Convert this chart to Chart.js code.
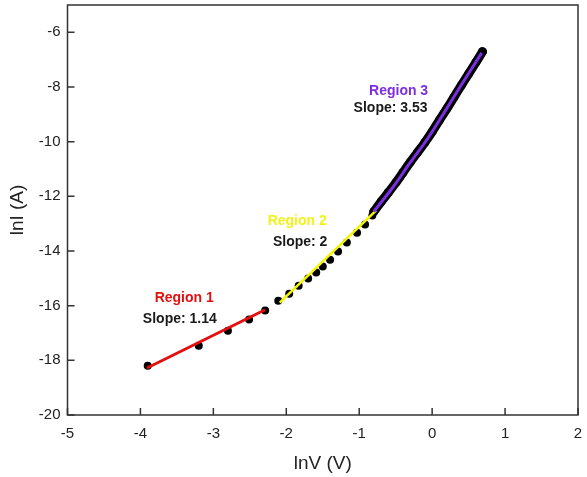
<!DOCTYPE html>
<html>
<head>
<meta charset="utf-8">
<script src="https://cdn.jsdelivr.net/npm/chart.js@4"></script>
<style>
  html, body { margin: 0; padding: 0; background: #fff; }
</style>
</head>
<body>
<canvas id="ivChart" width="587" height="477"></canvas>
<script>
// ln I vs ln V

const region1X = [-3.90, -3.20, -2.80, -2.51, -2.29];
const region1Y = [-18.20, -17.47, -16.92, -16.51, -16.18];

const region2X = [-2.11, -1.96, -1.83, -1.70, -1.59, -1.50, -1.40, -1.29, -1.17, -1.03, -0.92, -0.82];
const region2Y = [-15.82, -15.56, -15.27, -15.01, -14.79, -14.57, -14.32, -14.02, -13.69, -13.33, -13.03, -12.70];

// dense part of the curve (drawn as a thick run of points)
const region3X = [-0.80, -0.70, -0.60, -0.50, -0.40, -0.30, -0.20, -0.10, 0.00, 0.10, 0.20, 0.30, 0.40, 0.50, 0.60, 0.69];
const region3Y = [-12.56, -12.20, -11.86, -11.51, -11.13, -10.75, -10.39, -10.03, -9.64, -9.21, -8.80, -8.37, -7.94, -7.52, -7.10, -6.71];

// fitted lines
const fit1X = [-3.91, -2.29];
const fit1Y = [-18.28, -16.15];
const fit2X = [-2.09, -0.77];
const fit2Y = [-15.89, -12.52];
const fit3X = [-0.80, -0.53, -0.30, -0.07, 0.15, 0.38, 0.68];
const fit3Y = [-12.56, -11.64, -10.76, -9.92, -9.00, -8.01, -6.75];

const xTicks = [-5, -4, -3, -2, -1, 0, 1, 2];
const yTicks = [-20, -18, -16, -14, -12, -10, -8, -6];

const regionNames = ["Region 1", "Region 2", "Region 3"];
const slopeTexts = ["Slope: 1.14", "Slope: 2", "Slope: 3.53"];
const regionColors = ["#e4100f", "#f2f21a", "#7d2ee3"];
// label anchors in data units: [x, y] for name, then slope
const nameAt = [[-3.40, -15.74], [-1.85, -12.92], [-0.46, -8.16]];
const slopeAt = [[-3.46, -16.48], [-1.81, -13.66], [-0.57, -8.78]];

const FONT = "Arial, 'Liberation Sans', sans-serif";

function pts(xs, ys) {
    return xs.map((x, i) => ({ x: x, y: ys[i] }));
}

const framePlugin = {
    id: "frame",
    beforeDatasetsDraw(chart) {
        const ctx = chart.ctx;
        const a = chart.chartArea;
        const xs = chart.scales.x;
        const ys = chart.scales.y;
        ctx.save();
        ctx.strokeStyle = "#333";
        ctx.lineWidth = 1.5;
        ctx.strokeRect(a.left, a.top, a.right - a.left, a.bottom - a.top);
        ctx.beginPath();
        xTicks.forEach(v => {
            const px = xs.getPixelForValue(v);
            ctx.moveTo(px, a.bottom);
            ctx.lineTo(px, a.bottom - 7);
        });
        yTicks.forEach(v => {
            const py = ys.getPixelForValue(v);
            ctx.moveTo(a.left, py);
            ctx.lineTo(a.left + 7, py);
        });
        ctx.stroke();
        ctx.restore();
    },
    afterDatasetsDraw(chart) {
        const ctx = chart.ctx;
        const xs = chart.scales.x;
        const ys = chart.scales.y;
        ctx.save();
        ctx.font = "bold 14px " + FONT;
        ctx.textAlign = "center";
        ctx.textBaseline = "middle";
        regionNames.forEach((name, i) => {
            ctx.fillStyle = regionColors[i];
            ctx.fillText(name, xs.getPixelForValue(nameAt[i][0]), ys.getPixelForValue(nameAt[i][1]));
            ctx.fillStyle = "#1a1a1a";
            ctx.fillText(slopeTexts[i], xs.getPixelForValue(slopeAt[i][0]), ys.getPixelForValue(slopeAt[i][1]));
        });
        ctx.restore();
    }
};

const ctx = document.getElementById("ivChart").getContext("2d");

new Chart(ctx, {
    type: "scatter",
    data: {
        datasets: [
            {
                label: "Fit region 3",
                data: pts(fit3X, fit3Y),
                showLine: true,
                borderColor: regionColors[2],
                borderWidth: 3,
                pointRadius: 0,
                tension: 0.3,
                order: 1
            },
            {
                label: "Fit region 2",
                data: pts(fit2X, fit2Y),
                showLine: true,
                borderColor: "#f5f500",
                borderWidth: 2.5,
                pointRadius: 0,
                order: 2
            },
            {
                label: "Fit region 1",
                data: pts(fit1X, fit1Y),
                showLine: true,
                borderColor: regionColors[0],
                borderWidth: 3,
                pointRadius: 0,
                order: 3
            },
            {
                label: "Data region 3",
                data: pts(region3X, region3Y),
                showLine: true,
                borderColor: "#000",
                borderWidth: 9,
                borderCapStyle: "round",
                borderJoinStyle: "round",
                tension: 0.3,
                pointRadius: 4.5,
                pointBorderWidth: 0,
                pointBackgroundColor: "#000",
                order: 4
            },
            {
                label: "Data",
                data: pts(region1X.concat(region2X), region1Y.concat(region2Y)),
                pointRadius: 4,
                pointBorderWidth: 0,
                pointBackgroundColor: "#000",
                order: 5
            }
        ]
    },
    options: {
        responsive: false,
        animation: false,
        layout: { padding: { top: 5, right: 9, left: 0, bottom: 0 } },
        plugins: {
            legend: { display: false },
            tooltip: { enabled: false }
        },
        scales: {
            x: {
                type: "linear",
                min: -5,
                max: 2,
                afterBuildTicks: (scale) => { scale.ticks = xTicks.map(v => ({ value: v })); },
                afterFit: (scale) => {
                    scale.height = 62;
                    scale.paddingLeft = 0;
                    scale.paddingRight = 0;
                },
                grid: { display: false, drawTicks: false },
                border: { display: false },
                ticks: {
                    padding: 10,
                    color: "#222",
                    font: { family: FONT, size: 15 }
                },
                title: {
                    display: true,
                    text: "lnV (V)",
                    color: "#222",
                    font: { family: FONT, size: 19 },
                    padding: { top: 0, bottom: 2 }
                }
            },
            y: {
                type: "linear",
                min: -20,
                max: -5,
                afterBuildTicks: (scale) => { scale.ticks = yTicks.map(v => ({ value: v })); },
                afterFit: (scale) => {
                    scale.width = 67.5;
                    scale.paddingTop = 0;
                    scale.paddingBottom = 0;
                },
                grid: { display: false, drawTicks: false },
                border: { display: false },
                ticks: {
                    padding: 7,
                    color: "#222",
                    font: { family: FONT, size: 15 }
                },
                title: {
                    display: true,
                    text: "lnI (A)",
                    color: "#222",
                    font: { family: FONT, size: 19 },
                    padding: { top: 6, bottom: 0 }
                }
            }
        }
    },
    plugins: [framePlugin]
});
</script>
</body>
</html>
